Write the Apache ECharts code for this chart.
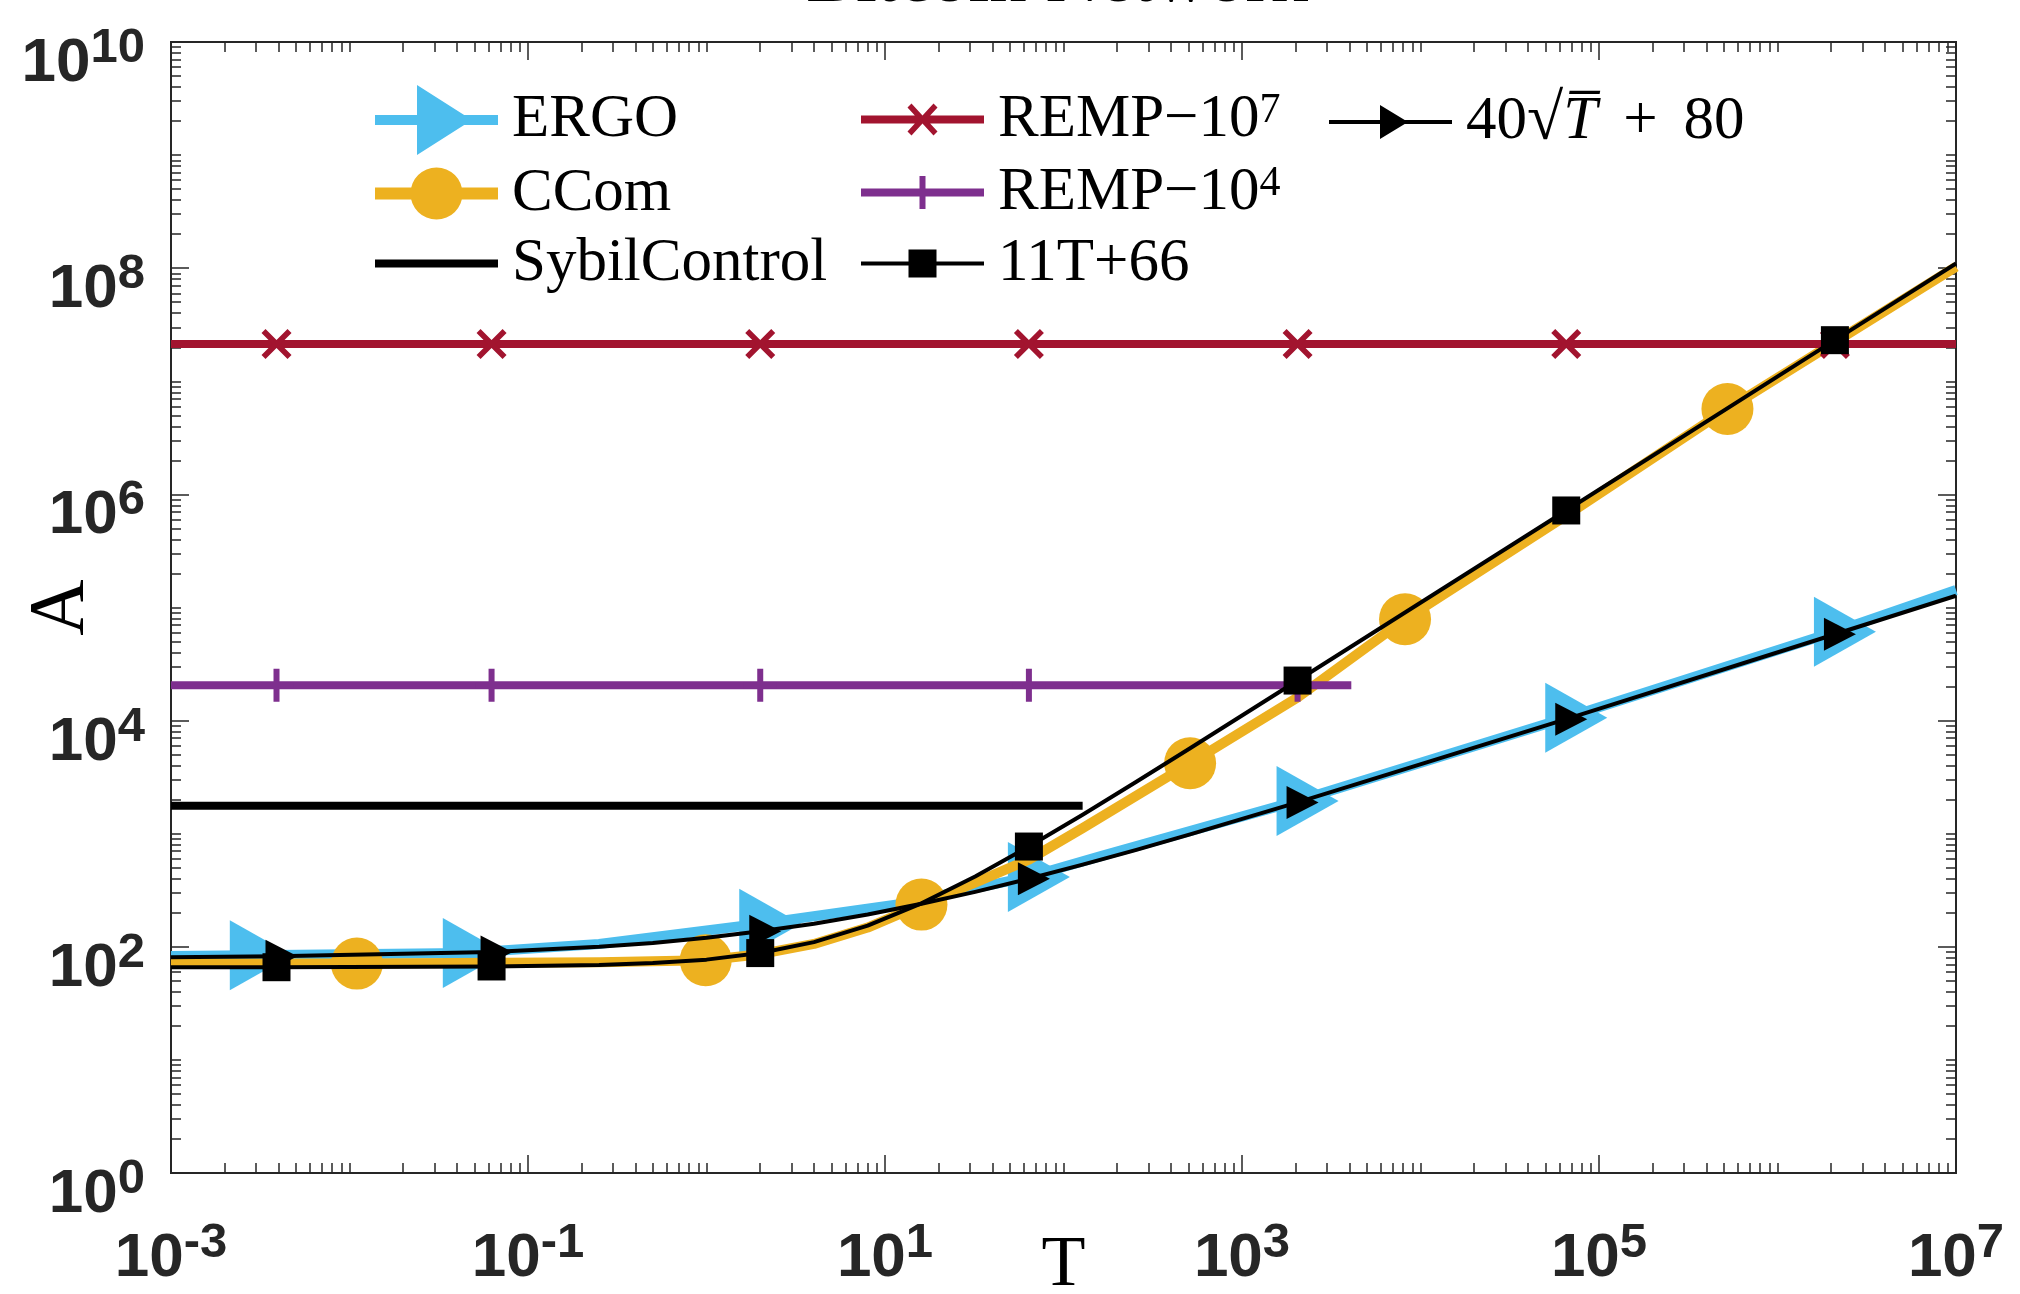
<!DOCTYPE html>
<html><head><meta charset="utf-8">
<script src="https://cdn.jsdelivr.net/npm/echarts@6/dist/echarts.min.js"></script>
<style>html,body{margin:0;padding:0;background:#fff}#c{width:2020px;height:1294px}</style>
</head><body><div id="c"></div>
<script>
// ---------------- data ----------------
const ergoT = [0.001, 0.0028, 0.0437, 0.25, 2, 12, 64, 160, 2048, 65536, 2097152, 10000000];
const ergoA = [83, 84, 88, 106, 160, 238, 415, 630, 1950, 10600, 61000, 143000];
const ergoMarks = [1, 2, 4, 6, 8, 9, 10];

const ccomT = [0.001, 0.011, 0.25, 0.99, 2, 4, 8, 16, 32, 64, 128, 512, 2048, 8192, 65536, 524288, 10000000];
const ccomA = [71, 71, 73, 76, 86, 106, 148, 236, 370, 590, 1120, 4200, 16000, 78800, 650000, 5700000, 103000000];
const ccomMarks = [1, 3, 7, 11, 13, 15];

const sybilT = [0.001, 128];
const sybilA = [1765, 1765];

const remp7T = [0.001, 0.0039, 0.0625, 2, 64, 2048, 65536, 2097152, 10000000];
const remp7A = [2.14e7, 2.14e7, 2.14e7, 2.14e7, 2.14e7, 2.14e7, 2.14e7, 2.14e7, 2.14e7];
const remp7Marks = [1, 2, 3, 4, 5, 6, 7];

const remp4T = [0.001, 0.0039, 0.0625, 2, 64, 2048, 4096];
const remp4A = [2.05e4, 2.05e4, 2.05e4, 2.05e4, 2.05e4, 2.05e4, 2.05e4];
const remp4Marks = [1, 2, 3, 4, 5];

const fitT = [0.001, 0.0039, 0.0625, 0.25, 0.5, 1, 2, 4, 8, 16, 32, 64, 128, 256, 512, 2048, 65536, 2097152, 10000000];
const linA = [66, 66, 67, 69, 72, 77, 88, 110, 154, 242, 418, 770, 1470, 2880, 5700, 22600, 721000, 23100000, 110000000];
const sqrtA = [81, 82.5, 90, 100, 108, 120, 137, 160, 193, 240, 306, 400, 533, 720, 985, 1890, 10300, 58000, 127000];
const fitMarks = [1, 2, 6, 11, 15, 16, 17];

// tick label exponents
const xMajorExp = [-3, -1, 1, 3, 5, 7];
const yMajorExp = [0, 2, 4, 6, 8, 10];

// ---------------- styling ----------------
const AX = '#262626';
const SERIF = 'Liberation Serif';
const SANS = 'Liberation Sans';

function minorTicks(lo, hi, majors) {
  const out = [];
  for (let k = lo; k < hi; k++) {
    if (majors.indexOf(k) < 0) out.push(k);
    for (let m = 2; m <= 9; m++) out.push(k + Math.log10(m));
  }
  return out;
}
const xMinor = minorTicks(-3, 7, xMajorExp);
const yMinor = minorTicks(0, 10, yMajorExp);

const labelRich = {
  b: {fontFamily: SANS, fontWeight: 'bold', fontSize: 62, lineHeight: 80, color: AX},
  s: {fontFamily: SANS, fontWeight: 'bold', fontSize: 49, lineHeight: 23, verticalAlign: 'top', color: AX}
};
const fmtExp = v => '{b|10}{s|' + Math.round(v) + '}';

function deco(kind, pos, min, max, vals, len, withLabels, extra) {
  const a = {
    type: 'value', position: pos, min: min, max: max, gridIndex: 0,
    axisLine: {show: false, onZero: false},
    splitLine: {show: false},
    axisTick: {show: true, inside: true, length: len, customValues: vals, lineStyle: {color: AX, width: 1.5}},
    axisLabel: withLabels ? {show: true, customValues: vals, formatter: fmtExp, rich: labelRich,
      margin: kind === 'x' ? 46 : 26, padding: kind === 'x' ? 0 : [44, 0, 0, 0]} : {show: false}
  };
  return Object.assign(a, extra || {});
}

function mk(Ts, As, marks) {
  return Ts.map((t, i) => marks.indexOf(i) >= 0 ? {value: [t, As[i]]} : {value: [t, As[i]], symbol: 'none'});
}

function lineSeries(name, Ts, As, marks, color, width, z, sym) {
  return Object.assign({
    name: name, type: 'line', xAxisIndex: 0, yAxisIndex: 0, z: z,
    data: mk(Ts, As, marks),
    showSymbol: true, showAllSymbol: true, silent: true, animation: false,
    lineStyle: {color: color, width: width, join: 'round', cap: 'butt'},
    itemStyle: {color: color, borderWidth: 0},
    emphasis: {disabled: true}
  }, sym);
}

const legTS = {fontFamily: SERIF, fontSize: 61, color: '#000', lineHeight: 60, padding: [0, 0, 0, 9],
  rich: {
    n: {fontFamily: SERIF, fontSize: 61, lineHeight: 60, color: '#000'},
    s: {fontFamily: SERIF, fontSize: 42, lineHeight: 32, verticalAlign: 'top', color: '#000'},
    i: {fontFamily: SERIF, fontSize: 61, lineHeight: 60, fontStyle: 'italic', color: '#000'},
    r: {fontFamily: SERIF, fontSize: 66, lineHeight: 60, color: '#000'},
    p: {fontFamily: SERIF, fontSize: 61, lineHeight: 60, color: '#000', padding: [0, 26, 0, 26]}
  }};
function leg(name, icon, left, top, h, fmt) {
  return {
    data: [{name: name, icon: icon}], left: left, top: top, padding: 0, itemGap: 0,
    itemWidth: 123, itemHeight: h, selectedMode: false,
    itemStyle: {borderWidth: 0},
    textStyle: legTS,
    formatter: fmt || (n => '{n|' + n + '}')
  };
}

const chart = echarts.init(document.getElementById('c'), null, {renderer: 'canvas'});
chart.setOption({
  animation: false,
  backgroundColor: '#fff',
  title: {text: 'Bitcoin Network', left: 806, top: -56, padding: 0,
    textStyle: {fontFamily: SERIF, fontSize: 75, fontWeight: 'normal', color: '#000', lineHeight: 75}},
  grid: {left: 171, right: 64, top: 42, bottom: 121, show: true, borderColor: AX, borderWidth: 2,
    backgroundColor: '#fff', containLabel: false, outerBoundsMode: 'none'},
  xAxis: [
    {type: 'log', logBase: 10, min: 0.001, max: 10000000, show: false},
    deco('x', 'bottom', -3, 7, xMajorExp, 18, true, {name: 'T', nameLocation: 'middle', nameGap: 57,
      nameMoveOverlap: false,
      nameTextStyle: {fontFamily: SERIF, fontSize: 72, color: '#000'}}),
    deco('x', 'bottom', -3, 7, xMinor, 10, false),
    deco('x', 'top', -3, 7, xMajorExp, 18, false),
    deco('x', 'top', -3, 7, xMinor, 10, false)
  ],
  yAxis: [
    {type: 'log', logBase: 10, min: 1, max: 10000000000, show: false},
    deco('y', 'left', 0, 10, yMajorExp, 18, true, {name: 'A', nameLocation: 'middle', nameGap: 70,
      nameMoveOverlap: false,
      nameTextStyle: {fontFamily: SERIF, fontSize: 78, color: '#000'}}),
    deco('y', 'left', 0, 10, yMinor, 10, false),
    deco('y', 'right', 0, 10, yMajorExp, 18, false),
    deco('y', 'right', 0, 10, yMinor, 10, false)
  ],
  legend: [
    leg('ERGO', 'path://M0,30H123V40H0Z M42,0L97,35L42,70Z', 375, 85, 70),
    leg('CCom', 'path://M0,20H123V32H0Z M35.5,26A26 26 0 1 1 87.5,26A26 26 0 1 1 35.5,26Z', 375, 163, 52),
    leg('SybilControl', 'path://M0,0H123V8H0Z', 375, 233, 8),
    leg('REMP-10^7', 'path://M0,12H123V20H0Z M46.5,4L50.5,0L61.5,12L72.5,0L76.5,4L65.5,16L76.5,28L72.5,32L61.5,20L50.5,32L46.5,28L57.5,16Z', 861, 89, 32,
      () => '{n|REMP\u221210}{s|7}'),
    leg('REMP-10^4', 'path://M0,12.5H123V20.5H0Z M58.5,0H64.5V33H58.5Z', 861, 162, 33,
      () => '{n|REMP\u221210}{s|4}'),
    leg('11T+66', 'path://M0,12H123V16H0Z M47.5,0H75.5V28H47.5Z', 861, 233, 28),
    leg('40sqrtT+80', 'path://M0,15H123V19H0Z M51,0L79,17L51,34Z', 1329, 89, 34,
      () => '{n|40}{r|\u221A}{i|T\u0305}{p|+}{n|80}')
  ],
  series: [
    lineSeries('ERGO', ergoT, ergoA, ergoMarks, '#4DBEEE', 10, 2,
      {symbol: 'triangle', symbolSize: [70, 62], symbolRotate: -90, symbolOffset: [10, 0]}),
    lineSeries('CCom', ccomT, ccomA, ccomMarks, '#EDB120', 10, 3,
      {symbol: 'circle', symbolSize: 52}),
    lineSeries('SybilControl', sybilT, sybilA, [], '#000000', 8, 4,
      {symbol: 'none'}),
    lineSeries('REMP-10^7', remp7T, remp7A, remp7Marks, '#A2142F', 8, 5,
      {symbol: 'path://M0,4L4,0L15,11L26,0L30,4L19,15L30,26L26,30L15,19L4,30L0,26L11,15Z', symbolSize: 30}),
    lineSeries('REMP-10^4', remp4T, remp4A, remp4Marks, '#7E2F8E', 8, 6,
      {symbol: 'path://M0,13.5H33V19.5H0Z M13.5,0H19.5V33H13.5Z', symbolSize: 33}),
    lineSeries('11T+66', fitT, linA, fitMarks, '#000000', 4, 7,
      {symbol: 'rect', symbolSize: 28}),
    lineSeries('40sqrtT+80', fitT, sqrtA, fitMarks, '#000000', 4, 8,
      {symbol: 'triangle', symbolSize: [33, 32], symbolRotate: -90, symbolOffset: [5, 0]})
  ]
});
</script></body></html>
